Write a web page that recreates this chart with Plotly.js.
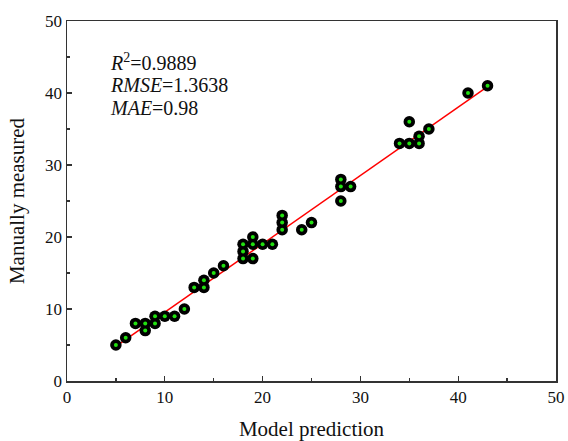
<!DOCTYPE html>
<html>
<head>
<meta charset="utf-8">
<script src="https://cdn.plot.ly/plotly-3.0.1.min.js"></script>
<style>html,body{margin:0;padding:0;background:#fff;}#chart{width:568px;height:441px;}</style>
</head>
<body>
<div id="chart"></div>
<script>
// Model prediction (x) vs manually measured (y)
const predicted = [5,6,7,8,8,9,9,10,11,12,13,14,14,15,16,18,18,18,19,19,19,20,21,22,22,22,24,25,28,28,28,29,34,35,35,36,36,37,41,43];
const measured  = [5,6,8,8,7,9,8,9,9,10,13,14,13,15,16,19,18,17,20,19,17,19,19,23,22,21,21,22,28,27,25,27,33,33,36,33,34,35,40,41];
// fitted line end points
const fitX = [5, 43];
const fitY = [4.8, 40.9];
const xTicks = [0,10,20,30,40,50];
const yTicks = [0,10,20,30,40,50];
const statLines = ["<i>R</i><sup>2</sup>=0.9889", "<i>RMSE</i>=1.3638", "<i>MAE</i>=0.98"];

const serif = "Liberation Serif, Times New Roman, serif";

const traces = [
  {x: fitX, y: fitY, mode: 'lines', line: {color: '#ff0000', width: 1.5}, hoverinfo: 'skip'},
  {x: predicted, y: measured, mode: 'markers',
   marker: {size: 11.5, color: '#000000', line: {width: 0}}},
  {x: predicted, y: measured, mode: 'markers',
   marker: {size: 4, color: '#22e010', line: {width: 0}}}
];

const axisCommon = {
  showgrid: false, zeroline: false, showline: true, mirror: true,
  linecolor: '#333333', linewidth: 1.5,
  ticks: 'inside', ticklen: 5, tickwidth: 1.3, tickcolor: '#333333',
  tickfont: {family: serif, size: 17, color: '#111111'},
  minor: {ticks: 'inside', dtick: 5, ticklen: 3, tickwidth: 1.3, tickcolor: '#333333'}
};

const annotations = statLines.map((t, i) => ({
  x: 4.17, y: 44.3 - i * 3.2, xref: 'x', yref: 'y', xanchor: 'left', yanchor: 'middle',
  text: t, showarrow: false, font: {family: serif, size: 20, color: '#111111'}
}));

const layout = {
  width: 568, height: 441,
  margin: {l: 67, r: 12, t: 21, b: 60},
  paper_bgcolor: '#ffffff', plot_bgcolor: '#ffffff',
  showlegend: false,
  xaxis: Object.assign({}, axisCommon, {
    range: [0, 50], tickvals: xTicks, ticktext: xTicks.map(String),
    title: {text: 'Model prediction', font: {family: serif, size: 21, color: '#111111'}, standoff: 16}
  }),
  yaxis: Object.assign({}, axisCommon, {
    range: [0, 50], tickvals: yTicks, ticktext: yTicks.map(String),
    title: {text: 'Manually measured', font: {family: serif, size: 21, color: '#111111'}, standoff: 14}
  }),
  annotations: annotations
};

Plotly.newPlot('chart', traces, layout, {displayModeBar: false, staticPlot: true});
</script>
</body>
</html>
